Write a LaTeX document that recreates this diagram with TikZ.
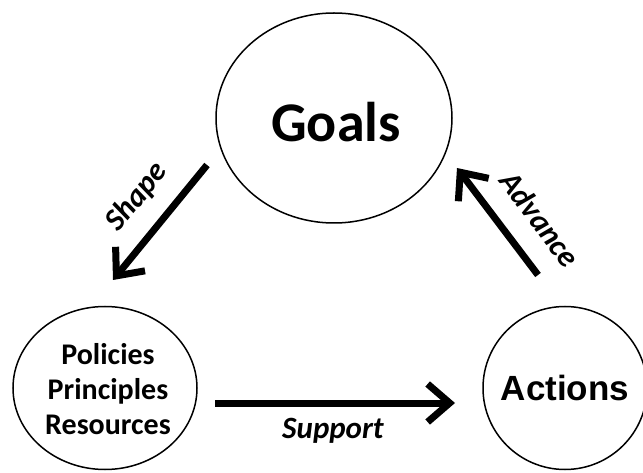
\documentclass[tikz,border=0pt]{standalone}
\usepackage{fontspec}
\setmainfont{Carlito}
\newfontfamily\arialfont{Liberation Sans}
\usetikzlibrary{shapes.geometric,arrows.meta}
\begin{document}
\begin{tikzpicture}[x=1pt,y=-1pt,
  circ/.style={ellipse,draw,line width=1.5pt,inner sep=0pt,align=center},
  conn/.style={line width=7pt,-{Straight Barb[length=22pt,width=38pt]}},
  lbl/.style={font=\fontsize{31}{34}\selectfont\bfseries\itshape}]
\useasboundingbox (0,0) rectangle (643,473);
\node[circ,minimum width=236pt,minimum height=210pt] (goals) at (334,118) {};
\node[font=\fontsize{56}{60}\selectfont\bfseries,anchor=base] (goalst) at (336,142) {Goals};
\node[circ,minimum width=184pt,minimum height=163pt] (policies) at (105,388) {};
\node[font=\fontsize{30}{35}\selectfont\bfseries,align=center] (policiest) at (108,389) {Policies\\Principles\\Resources};
\node[circ,minimum width=164pt,minimum height=163pt] (actions) at (565,388) {};
\node[font=\fontsize{35}{40}\selectfont\bfseries\arialfont,anchor=base] (actionst) at (565,400) {Actions};
\coordinate (shapeS) at (207,165);
\coordinate (shapeE) at (113,280);
\coordinate (advS) at (538,275);
\coordinate (advE) at (457,168);
\coordinate (supS) at (215,403);
\coordinate (supE) at (455,403);
\draw[conn] (shapeS) -- (shapeE);
\draw[conn] (advS) -- (advE);
\draw[conn] (supS) -- (supE);
\node[lbl,rotate=51] (shapel) at (137,197) {Shape};
\node[lbl,rotate=-53] (advl) at (540,219) {Advance};
\node[lbl,anchor=base] (supl) at (333,438) {Support};
\end{tikzpicture}
\end{document}
